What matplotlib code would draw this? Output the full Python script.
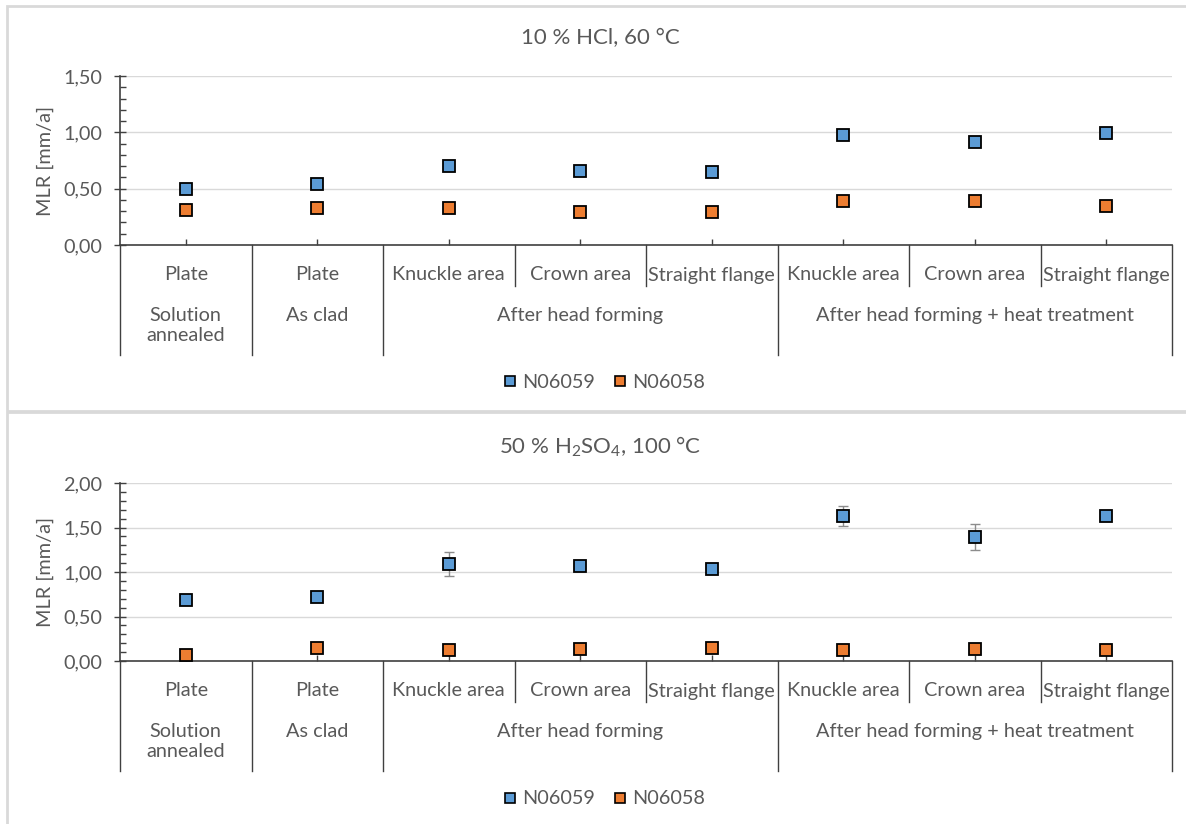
import numpy as np
import matplotlib.pyplot as plt
from matplotlib.lines import Line2D
from matplotlib.patches import Rectangle

plt.rcParams['font.family'] = ['Lato', 'DejaVu Sans']
plt.rcParams['mathtext.default'] = 'regular'

# sample positions on the x axis and their grouping
categories = ['Plate', 'Plate', 'Knuckle area', 'Crown area', 'Straight flange',
              'Knuckle area', 'Crown area', 'Straight flange']
group_labels = ['Solution\nannealed', 'As clad', 'After head forming',
                'After head forming + heat treatment']
group_sizes = [1, 1, 3, 3]

# 10 % HCl, 60 °C
hcl_n06059 = [0.50, 0.54, 0.70, 0.66, 0.65, 0.98, 0.91, 0.99]
hcl_n06058 = [0.31, 0.33, 0.33, 0.29, 0.29, 0.39, 0.39, 0.35]

# 50 % H2SO4, 100 °C
h2so4_n06059 = [0.69, 0.72, 1.09, 1.07, 1.03, 1.63, 1.39, 1.63]
h2so4_n06059_err = [0, 0, 0.13, 0, 0, 0.11, 0.145, 0]
h2so4_n06058 = [0.07, 0.15, 0.12, 0.13, 0.15, 0.12, 0.14, 0.12]

BLUE = '#5B9BD5'
ORANGE = '#ED7D31'
TXT = '#595959'
LINE = '#404040'
FS = 14.3
W, H = 1186, 824

fig = plt.figure(figsize=(W / 100, H / 100), dpi=100)

# panel frames
fig.patches.append(Rectangle((7 / W, 1 - 411 / H), 1.0, 405 / H, transform=fig.transFigure,
                             fill=False, edgecolor='#d9d9d9', lw=2))
fig.patches.append(Rectangle((7 / W, -0.01), 1.0, 1 - 412 / H + 0.01, transform=fig.transFigure,
                             fill=False, edgecolor='#d9d9d9', lw=2))


def fmt(v):
    return f'{v:.2f}'.replace('.', ',')


def draw_panel(ax, title, title_y, s1, s2, ymax, legend_y, err=None):
    n = len(categories)
    x = np.arange(n)
    ax_h = ax.get_position().height * H

    def dy(px):
        return -px / ax_h

    ax.set_xlim(-0.5, n - 0.5)
    ax.set_ylim(0, ymax)
    ax.set_axisbelow(True)
    ax.yaxis.grid(True, color='#d9d9d9', lw=1)
    for s in ['top', 'right']:
        ax.spines[s].set_visible(False)
    for s in ['left', 'bottom']:
        ax.spines[s].set_color(LINE)
        ax.spines[s].set_linewidth(1.2)

    major = np.arange(0, ymax + 0.01, 0.5)
    ax.set_yticks(major)
    ax.set_yticklabels([fmt(v) for v in major])
    ax.set_yticks(np.arange(0, ymax + 0.01, 0.1), minor=True)
    ax.tick_params(axis='y', which='major', direction='inout', length=8.6, width=1,
                   color=LINE, labelcolor=TXT, labelsize=FS, pad=8.5)
    ax.tick_params(axis='y', which='minor', direction='in', length=4.3, width=1, color=LINE)
    ax.set_xticks(x)
    ax.tick_params(axis='x', direction='in', length=4.3, width=1, color=LINE,
                   labelbottom=False)
    ax.set_ylabel('MLR [mm/a]', color=TXT, fontsize=FS, labelpad=7)

    if err is not None:
        ax.errorbar(x, s1, yerr=err, fmt='none', ecolor='#8c8c8c', elinewidth=1,
                    capsize=3.5, capthick=1, zorder=3)
    ax.plot(x, s1, 's', color=BLUE, mec='black', mew=1.3, ms=9, zorder=4)
    ax.plot(x, s2, 's', color=ORANGE, mec='black', mew=1.3, ms=9, zorder=4)

    tr = ax.get_xaxis_transform()
    # first label row
    for i, c in enumerate(categories):
        ax.text(i, dy(30), c, transform=tr, ha='center', va='center',
                color=TXT, fontsize=FS)
    # separators and group labels
    start = 0
    edges = [-0.5]
    for g, size in zip(group_labels, group_sizes):
        for k in range(1, size):
            xs = start + k - 0.5
            ax.add_line(Line2D([xs, xs], [0, dy(41)], transform=tr, color=LINE,
                               lw=1, clip_on=False))
        center = start + (size - 1) / 2
        ax.text(center, dy(62), g, transform=tr, ha='center', va='top',
                color=TXT, fontsize=FS, linespacing=1.2)
        start += size
        edges.append(start - 0.5)
    for xs in edges:
        ax.add_line(Line2D([xs, xs], [0, dy(110)], transform=tr, color=LINE,
                           lw=1, clip_on=False))

    fig.text(600 / W, 1 - title_y / H, title, ha='center', va='center',
             color=TXT, fontsize=16)

    handles = [Line2D([], [], ls='none', marker='s', color=BLUE, mec='black', mew=1.2, ms=7.5),
               Line2D([], [], ls='none', marker='s', color=ORANGE, mec='black', mew=1.2, ms=7.5)]
    fig.legend(handles, ['N06059', 'N06058'], loc='center',
               bbox_to_anchor=(604 / W, 1 - legend_y / H), ncol=2, frameon=False,
               handlelength=0.7, handletextpad=0.25, columnspacing=0.9,
               labelcolor=TXT, fontsize=FS)


ax1 = fig.add_axes([120 / W, 1 - 245 / H, 1052 / W, 169 / H])
ax2 = fig.add_axes([120 / W, 1 - 661 / H, 1052 / W, 178 / H])

draw_panel(ax1, '10 % HCl, 60 °C', 38, hcl_n06059, hcl_n06058, 1.5, 382)
draw_panel(ax2, '50 % H$_2$SO$_4$, 100 °C', 447, h2so4_n06059, h2so4_n06058, 2.0, 799,
           err=h2so4_n06059_err)

fig.savefig('out.png', dpi=100, facecolor='white')
